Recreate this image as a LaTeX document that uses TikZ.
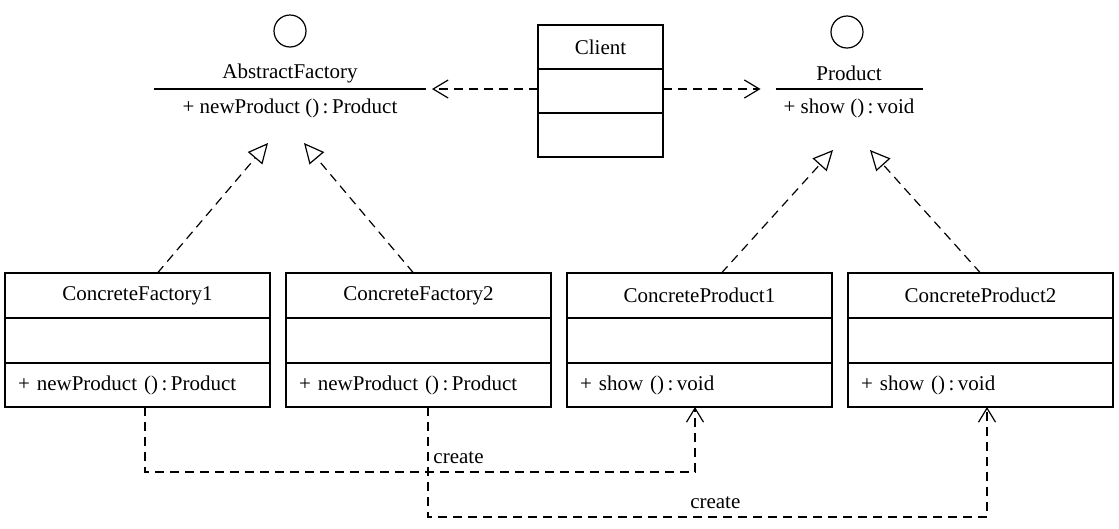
\documentclass[tikz,border=0pt]{standalone}
\usepackage{fontspec}
\setmainfont{Liberation Serif}
\usepackage{tikz}
\usetikzlibrary{arrows.meta,positioning,shapes}

\begin{document}
\begin{tikzpicture}[x=1pt,y=-1pt,line width=1.2pt,font=\fontsize{21}{25}\selectfont,
                    node distance=0pt and 16pt]
  \tikzstyle{row}=[draw,outer sep=0pt,inner xsep=13pt,text width=239pt,minimum height=45pt]
  \tikzstyle{head}=[row,align=center]
  \tikzstyle{ops}=[row,align=left,minimum height=44pt]
  \tikzstyle{crow}=[draw,outer sep=0pt,minimum width=125pt,minimum height=44pt]
  \tikzstyle{lolly}=[draw,circle,minimum size=32pt,inner sep=0pt]
  \tikzstyle{iops}=[outer sep=0pt,minimum height=38pt]
  \tikzstyle{dep}=[dash pattern=on 9pt off 6pt]
  \tikzstyle{real}=[dep,-{Triangle[open,length=20pt,width=19pt]}]
  \tikzstyle{use}=[dep,-{Straight Barb[length=15pt,width=18pt]}]

  \useasboundingbox (0,0) rectangle (1119,528);

  \node[lolly]  (afc) at (290,31) {};
  \node         (af) at (290,73) {AbstractFactory};
  \node[iops,minimum width=272pt] (afo) at (290,108) {+ newProduct ()\,:\,Product};
  \draw (afo.north west) -- (afo.north east);

  \node[lolly]  (pc) at (847,32) {};
  \node         (p) at (849,73) {Product};
  \node[iops,minimum width=147pt] (po) at (849,108) {+ show ()\,:\,void};
  \draw (po.north west) -- (po.north east);

  \node[crow]   (cl) at (600.5,47) {Client};
  \node[crow]   (cla) [below=of cl] {};
  \node[crow]   (clo) [below=of cla] {};

  \node[head]   (cf1) at (137.5,295.5) {ConcreteFactory1};
  \node[row]    (cf1a) [below=of cf1] {};
  \node[ops]    (cf1o) [below=of cf1a] {+ newProduct ()\,:\,Product};
  \node[head]   (cf2) [right=of cf1] {ConcreteFactory2};
  \node[row]    (cf2a) [below=of cf2] {};
  \node[ops]    (cf2o) [below=of cf2a] {+ newProduct ()\,:\,Product};
  \node[head]   (cp1) [right=of cf2] {ConcreteProduct1};
  \node[row]    (cp1a) [below=of cp1] {};
  \node[ops]    (cp1o) [below=of cp1a] {+ show ()\,:\,void};
  \node[head]   (cp2) [right=of cp1] {ConcreteProduct2};
  \node[row]    (cp2a) [below=of cp2] {};
  \node[ops]    (cp2o) [below=of cp2a] {+ show ()\,:\,void};

  \coordinate (af in1) at ([shift={(-22,16)}]afo.south);
  \coordinate (af in2) at ([shift={(14,16)}]afo.south);
  \coordinate (p in1) at ([shift={(-16,23)}]po.south);
  \coordinate (p in2) at ([shift={(21,23)}]po.south);

  \path[real] ([xshift=20pt]cf1.north) edge (af in1)
              ([xshift=-5pt]cf2.north) edge (af in2)
              ([xshift=22pt]cp1.north) edge (p in1)
              (cp2.north) edge (p in2);

  \draw[use] (afo.north east -| cla.west) -- ([xshift=6pt]afo.north east);
  \draw[use] (po.north west -| cla.east) -- ([xshift=-15pt]po.north west);

  \draw[dep,-{Straight Barb[length=14pt,width=17pt]}]
        ([xshift=7.5pt]cf1o.south) -- ++(0,65)
        -| node[pos=0.285,anchor=base,yshift=9pt] {create} ([xshift=-4.5pt]cp1o.south);
  \draw[dep,-{Straight Barb[length=14pt,width=17pt]}]
        ([xshift=9.5pt]cf2o.south) -- ++(0,110)
        -| node[pos=0.257,anchor=base,yshift=9pt] {create} ([xshift=6.5pt]cp2o.south);
\end{tikzpicture}
\end{document}
